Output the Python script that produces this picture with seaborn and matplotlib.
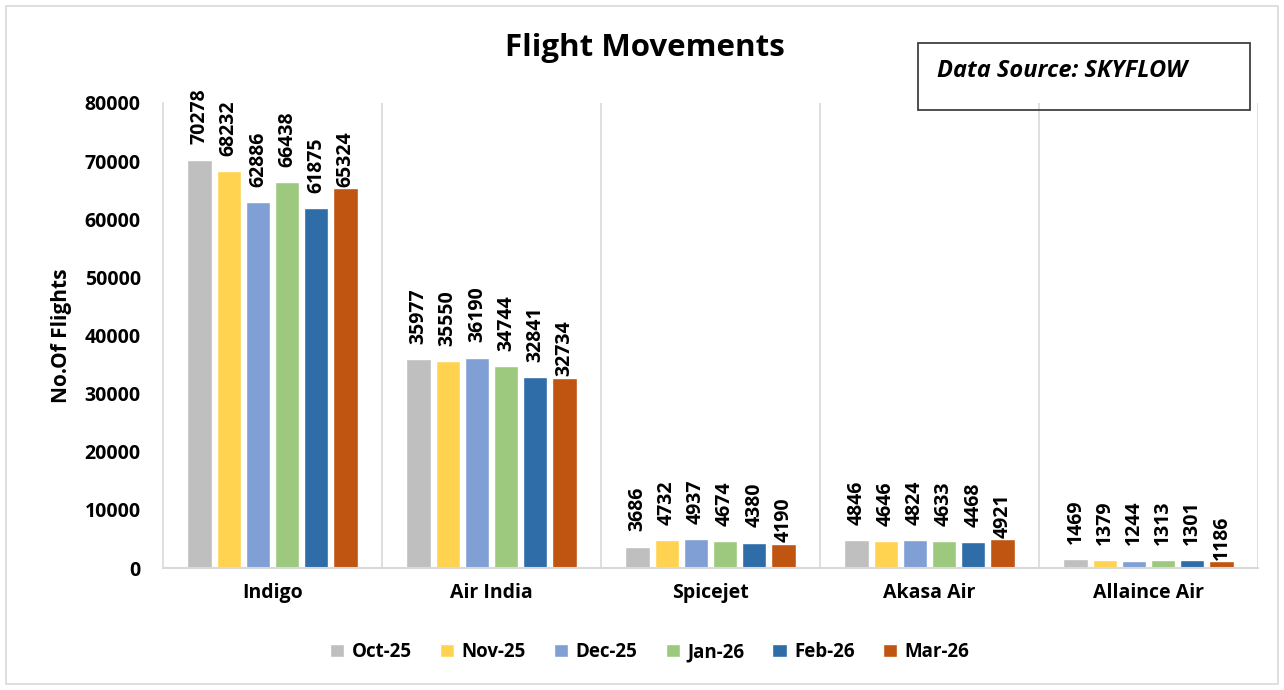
import matplotlib
matplotlib.use("Agg")
import matplotlib.pyplot as plt
import seaborn as sns
import pandas as pd
from matplotlib.patches import Rectangle

airlines = ["Indigo", "Air India", "Spicejet", "Akasa Air", "Allaince Air"]
months = ["Oct-25", "Nov-25", "Dec-25", "Jan-26", "Feb-26", "Mar-26"]
oct25 = [70278, 35977, 3686, 4846, 1469]
nov25 = [68232, 35550, 4732, 4646, 1379]
dec25 = [62886, 36190, 4937, 4824, 1244]
jan26 = [66438, 34744, 4674, 4633, 1313]
feb26 = [61875, 32841, 4380, 4468, 1301]
mar26 = [65324, 32734, 4190, 4921, 1186]
colors = ["#BFBFBF", "#FFD34F", "#7F9FD5", "#9DC97E", "#2E6DA8", "#C05511"]

series = [oct25, nov25, dec25, jan26, feb26, mar26]
rows = []
for m, vals in zip(months, series):
    for a, v in zip(airlines, vals):
        rows.append({"Airline": a, "Month": m, "Flights": v})
df = pd.DataFrame(rows)

sns.set_theme(style="white")
plt.rcParams["font.family"] = ["Open Sans", "DejaVu Sans"]
plt.rcParams["text.color"] = "black"
plt.rcParams["axes.labelcolor"] = "black"
plt.rcParams["xtick.color"] = "black"
plt.rcParams["ytick.color"] = "black"

fig = plt.figure(figsize=(12.84, 6.90), dpi=100)
ax = fig.add_axes([163/1284, 1-568/690, (1258-163)/1284, (568-103)/690])

sns.barplot(data=df, x="Airline", y="Flights", hue="Month", order=airlines,
            hue_order=months, palette=colors, width=0.8, gap=0.17,
            saturation=1, ax=ax, legend=True, errorbar=None)

for i, cont in enumerate(ax.containers):
    ax.bar_label(cont, labels=[f"{int(v)}" for v in cont.datavalues],
                 rotation=90, padding=(1 if i == 5 else 11), fontsize=14,
                 fontweight="bold", color="black")

ax.set_ylim(0, 80000)
ax.set_xlim(-0.5, 4.5)
ax.set_yticks(range(0, 80001, 10000))
ax.set_yticklabels([str(v) for v in range(0, 80001, 10000)], fontsize=14,
                   fontweight="bold")
ax.tick_params(axis="x", labelsize=14, pad=11)
for t in ax.get_xticklabels():
    t.set_fontweight("bold")
ax.tick_params(axis="y", pad=16, length=0)
ax.tick_params(axis="x", length=0)
ax.set_xlabel("")
ax.set_ylabel("No.Of Flights", fontsize=15, fontweight="bold", labelpad=9)

for x in [0.5, 1.5, 2.5, 3.5]:
    ax.axvline(x, color="#D9D9D9", lw=1.2, zorder=0)
for s in ["top", "right"]:
    ax.spines[s].set_visible(False)
ax.spines["left"].set_color("#D9D9D9")
ax.spines["bottom"].set_color("#D9D9D9")
ax.spines["left"].set_linewidth(1.2)
ax.spines["bottom"].set_linewidth(1.5)
ax.axvline(4.5, color="#D9D9D9", lw=1.2, zorder=0)

leg = ax.legend(loc="center", bbox_to_anchor=(0.506, 0.055),
                bbox_transform=fig.transFigure, ncol=6, frameon=False,
                handlelength=0.75, handleheight=0.75, handletextpad=0.4,
                columnspacing=1.5, prop={"size": 13.5, "weight": "bold"})

fig.text(645/1284, 1-48/690, "Flight Movements", ha="center", va="center",
         fontsize=22.5, fontweight="bold")

fig.patches.append(Rectangle((918/1284, 1-110/690), 332/1284, 67/690,
                             transform=fig.transFigure, fill=False,
                             edgecolor="#404040", lw=1.3))
fig.text(937/1284, 1-71/690, "Data Source: SKYFLOW", ha="left", va="center",
         fontsize=17, fontweight="bold", style="italic")

fig.patches.append(Rectangle((6/1284, 6/690), 1272/1284, 678/690,
                             transform=fig.transFigure, fill=False,
                             edgecolor="#D9D9D9", lw=1.2))

fig.savefig("out.png", dpi=100)
